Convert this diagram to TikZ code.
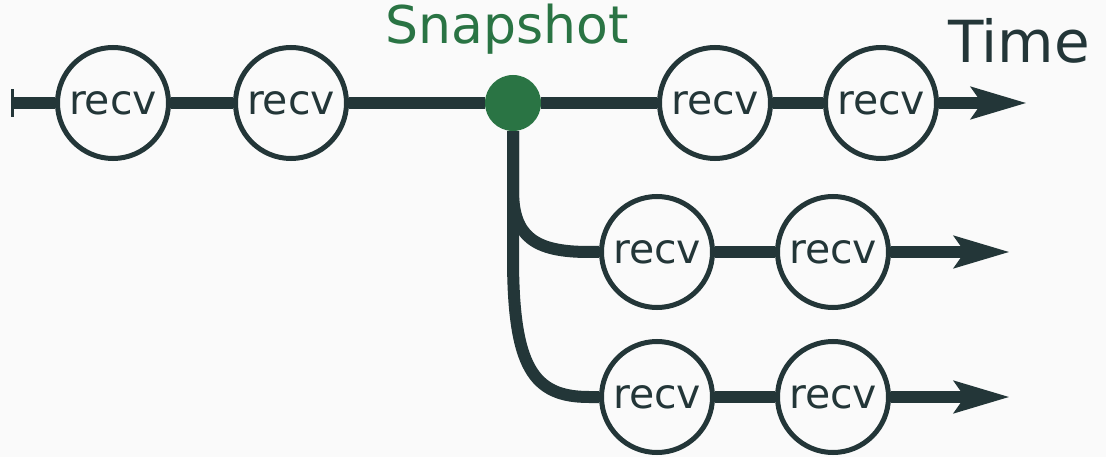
\documentclass[tikz,border=0pt]{standalone}
\usepackage{fontspec}
\setmainfont{DejaVu Sans}
\usetikzlibrary{arrows.meta}
\definecolor{ink}{HTML}{233638}
\definecolor{snapgreen}{HTML}{2A7444}
\definecolor{bg}{HTML}{FAFAFA}
\begin{document}
\begin{tikzpicture}[x=1pt,y=-1pt,
  recvnode/.style={circle, draw=ink, line width=5pt, fill=bg, minimum size=111pt,
    inner sep=0pt, text=ink, font=\fontsize{41}{41}\selectfont},
  snapdot/.style={circle, fill=snapgreen, minimum size=56pt, inner sep=0pt},
  wire/.style={draw=ink, line width=12pt},
  arrowwire/.style={wire, -{Stealth[length=55pt,width=31pt,inset=10pt]}},
  startbar/.style={draw=ink, line width=3pt},
  label/.style={anchor=base, inner sep=0pt}]
\fill[bg] (0,0) rectangle (1106,457);
\useasboundingbox (0,0) rectangle (1106,457);

% nodes
\node[recvnode] (a1) at (113,103) {recv};
\node[recvnode] (a2) at (291,103) {recv};
\node[snapdot]  (snap) at (513,103) {};
\node[recvnode] (a3) at (715,103) {recv};
\node[recvnode] (a4) at (881,103) {recv};
\node[recvnode] (b1) at (657,252) {recv};
\node[recvnode] (b2) at (833,252) {recv};
\node[recvnode] (c1) at (657,397) {recv};
\node[recvnode] (c2) at (833,397) {recv};

\coordinate (start) at (12,103);
\coordinate (endA) at (1027,103);
\coordinate (endB) at (1010,252);
\coordinate (endC) at (1010,397);

% labels
\node[label, text=snapgreen, font=\fontsize{52}{52}\selectfont] (snaplabel) at (507,44) {Snapshot};
\node[label, text=ink, font=\fontsize{58}{58}\selectfont] (timelabel) at (1019,63) {Time};

% main line
\draw[startbar] ([yshift=-14pt]start) -- ([yshift=14pt]start);
\draw[wire] (start) -- (a1);
\draw[wire] (a1) -- (a2);
\draw[wire] (a2) -- (snap);
\draw[wire] (snap) -- (a3);
\draw[wire] (a3) -- (a4);
\draw[arrowwire] (a4) -- (endA);

% branches
\draw[wire] (snap.south) -- ([yshift=62pt]snap |- b1) .. controls ([yshift=15pt]snap |- b1) and ([xshift=22pt]snap |- b1) .. ([xshift=-10pt]b1.west) -- (b1.west);
\draw[wire] (b1) -- (b2);
\draw[arrowwire] (b2) -- (endB);

\draw[wire] (snap.south) -- ([yshift=140pt]snap |- c1) .. controls ([yshift=30pt]snap |- c1) and ([xshift=20pt]snap |- c1) .. ([xshift=-10pt]c1.west) -- (c1.west);
\draw[wire] (c1) -- (c2);
\draw[arrowwire] (c2) -- (endC);
\end{tikzpicture}
\end{document}
